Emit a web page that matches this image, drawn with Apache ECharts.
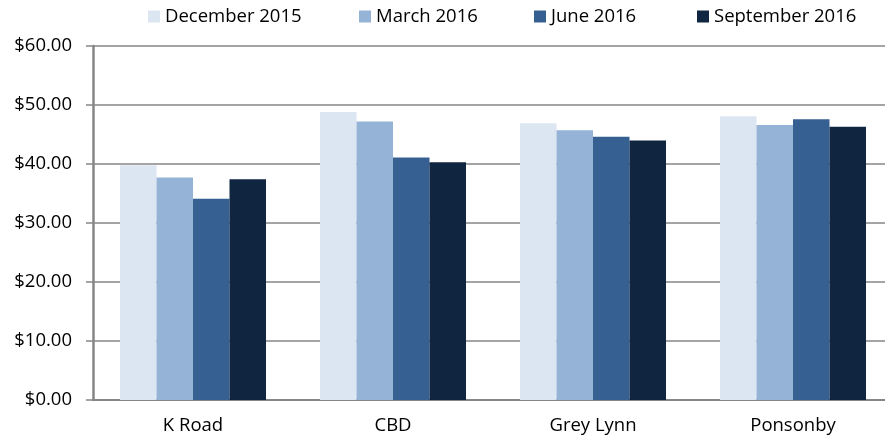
<!DOCTYPE html>
<html>
<head>
<meta charset="utf-8">
<script src="https://cdn.jsdelivr.net/npm/echarts@6/dist/echarts.min.js"></script>
<style>
  html, body { margin: 0; padding: 0; background: #fff; }
  #chart { width: 885px; height: 439px; }
</style>
</head>
<body>
<div id="chart"></div>
<script>
// 数据
const areas = ['K Road', 'CBD', 'Grey Lynn', 'Ponsonby'];
const periods = ['December 2015', 'March 2016', 'June 2016', 'September 2016'];
const dec2015 = [39.8, 48.8, 46.9, 48.1];
const mar2016 = [37.7, 47.2, 45.7, 46.6];
const jun2016 = [34.1, 41.1, 44.6, 47.6];
const sep2016 = [37.4, 40.3, 44.0, 46.3];
const colors = ['#dce6f2', '#95b3d7', '#376092', '#10253f'];

const seriesValues = [dec2015, mar2016, jun2016, sep2016];
const legendLeft = [148, 359, 534, 697];
const gridColor = '#868686';
const font = '"Open Sans", sans-serif';

let myChart = echarts.init(document.getElementById('chart'));
myChart.setOption({
  color: colors,
  animation: false,
  textStyle: { fontFamily: font },
  // 每个图例单独定位
  legend: periods.map((p, i) => ({
    data: [p],
    left: legendLeft[i],
    top: 7,
    padding: 0,
    itemWidth: 12,
    itemHeight: 12,
    itemGap: 0,
    icon: 'rect',
    textStyle: { color: '#000', fontSize: 18.5, fontFamily: font }
  })),
  grid: {
    left: 93,
    top: 46,
    width: 800,
    height: 354,
    containLabel: false,
    outerBoundsMode: 'none'
  },
  xAxis: {
    type: 'category',
    data: areas,
    axisLine: { lineStyle: { color: gridColor, width: 2 } },
    axisTick: { length: 6, lineStyle: { color: gridColor, width: 2 } },
    axisLabel: { color: '#000', fontSize: 18.5, fontFamily: font, margin: 16 }
  },
  yAxis: {
    type: 'value',
    min: 0,
    max: 60,
    interval: 10,
    axisLine: { show: true, lineStyle: { color: gridColor, width: 2.5 } },
    axisTick: { show: true, length: 7, lineStyle: { color: gridColor, width: 1.5 } },
    splitLine: { lineStyle: { color: gridColor, width: 1.5 } },
    axisLabel: {
      color: '#000',
      fontSize: 18.5,
      fontFamily: font,
      margin: 21,
      formatter: v => '$' + v.toFixed(2)
    }
  },
  series: seriesValues.map((vals, i) => ({
    name: periods[i],
    type: 'bar',
    data: vals,
    barGap: 0,
    barCategoryGap: '27%'
  }))
});
</script>
</body>
</html>
